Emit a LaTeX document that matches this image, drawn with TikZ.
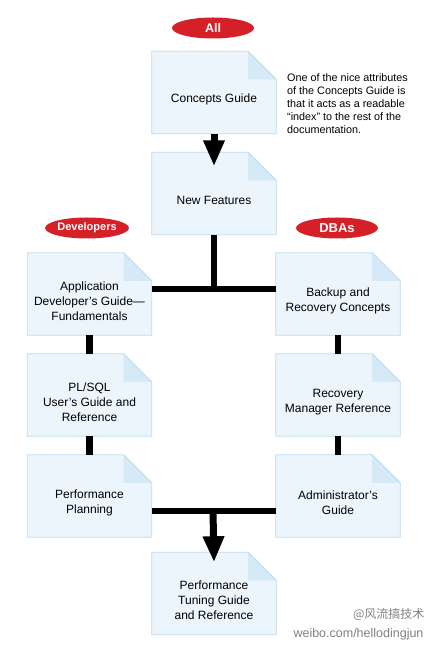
\documentclass[tikz,border=0pt]{standalone}
\usepackage{fontspec}
\setmainfont{Liberation Sans}
\newfontfamily\cjk{Noto Sans CJK SC}
\usepackage{tikz}
\usetikzlibrary{shapes.geometric,arrows.meta}

\definecolor{docfill}{RGB}{236,245,252}
\definecolor{docline}{RGB}{188,218,239}
\definecolor{docfold}{RGB}{214,233,246}
\definecolor{tagred}{RGB}{214,32,40}

% page with a folded corner, drawn under the node text
\newcommand{\fold}{28pt}
\newcommand{\docframe}[1]{%
  \draw[docline, fill=docfill, line width=0.8pt] (#1.south west) -- (#1.north west) -- ([xshift=-\fold]#1.north east) -- ([yshift=-\fold]#1.north east) -- (#1.south east) -- cycle;
  \fill[docfold] ([xshift=-\fold]#1.north east) -- ([yshift=-\fold]#1.north east) -- ([xshift=-\fold,yshift=-\fold]#1.north east) -- cycle;
  \draw[docline, line width=0.8pt] ([xshift=-\fold]#1.north east) -- ([yshift=-\fold]#1.north east);}

\tikzstyle{doc} = [rectangle, minimum width=124pt, minimum height=82pt, inner sep=0pt, append after command={\pgfextra{\docframe{\tikzlastnode}}}]
\tikzstyle{doctext} = [align=center, inner sep=0pt, yshift=-7pt, font=\fontsize{12}{15}\selectfont]
\tikzstyle{tag} = [ellipse, fill=tagred, text=white, minimum width=82pt, minimum height=21pt, inner sep=0pt]
\tikzstyle{note} = [align=left, inner sep=0pt, anchor=north west, font=\fontsize{10.8}{13}\selectfont]
\tikzstyle{bar} = [draw, line width=6.5pt]
\tikzstyle{arrow} = [draw, line width=7pt, -{Triangle[width=20pt,length=26pt]}]

\begin{document}
\begin{tikzpicture}[x=1pt, y=1pt, node distance=101pt]
\useasboundingbox (0,0) rectangle (432,648);
% Place nodes
\node [tag, font=\bfseries\fontsize{12.5}{14}\selectfont] (all) at (213,620) {All};
\node [doc, label={[doctext]center:Concepts Guide}] (concepts) at (214,555.5) {};
\node [doc, below of=concepts, label={[doctext]center:New Features}] (newfeat) {};
\node [note] (remark) at (287,575) {One of the nice attributes\\of the Concepts Guide is\\that it acts as a readable\\“index” to the rest of the\\documentation.};

\node [tag, font=\bfseries\fontsize{11}{13}\selectfont] (devs) at (87,420) {Developers};
\node [doc, label={[doctext]center:{Application\\Developer’s Guide—\\Fundamentals}}] (appdev) at (89.5,354) {};
\node [doc, below of=appdev, label={[doctext]center:{PL/SQL\\User’s Guide and\\Reference}}] (plsql) {};
\node [doc, below of=plsql, label={[doctext]center:{Performance\\Planning}}] (perfplan) {};

\node [tag, font=\bfseries\fontsize{13}{15}\selectfont] (dbas) at (337,420) {DBAs};
\node [doc, label={[doctext]center:{Backup and\\Recovery Concepts}}] (backup) at (338,354) {};
\node [doc, below of=backup, label={[doctext]center:{Recovery\\Manager Reference}}] (recman) {};
\node [doc, below of=recman, label={[doctext]center:{Administrator’s\\Guide}}] (admin) {};

\node [doc, label={[doctext]center:{Performance\\Tuning Guide\\and Reference}}] (tuning) at (214,54.5) {};

\node [anchor=east, text=gray, font=\cjk\fontsize{12}{14}\selectfont] (wbname) at (428,34) {@风流搞技术};
\node [anchor=east, text=gray, font=\fontsize{12.5}{14}\selectfont] (wburl) at (427,14) {weibo.com/hellodingjun};

\coordinate (upper split) at (214,359);
\coordinate (lower split) at (213,137);
% Draw edges
\path [arrow] (concepts) -- ([yshift=-14pt]newfeat.north);
\path [bar] (newfeat) -- (upper split);
\path [bar] (appdev.east |- upper split) -- (backup.west |- upper split);
\path [bar] (appdev) -- (plsql);
\path [bar] (plsql) -- (perfplan);
\path [bar] (backup) -- (recman);
\path [bar] (recman) -- (admin);
\path [bar] (perfplan.east |- lower split) -- (admin.west |- lower split);
\path [arrow] (lower split) -- ([yshift=-10pt]tuning.north);

\end{tikzpicture}
\end{document}
